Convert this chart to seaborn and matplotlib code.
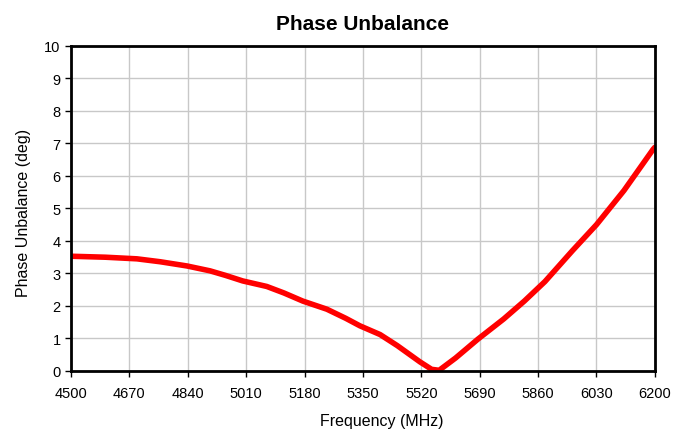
import matplotlib
matplotlib.use("Agg")
import matplotlib.pyplot as plt
import seaborn as sns
import pandas as pd

freq = [4500, 4600, 4692, 4760, 4838, 4905, 4950, 5000, 5070, 5120, 5175, 5245, 5300, 5341, 5400, 5450, 5516, 5550, 5572, 5620, 5685, 5760, 5820, 5880, 5960, 6030, 6110, 6195, 6200]
phase = [3.53, 3.50, 3.45, 3.36, 3.23, 3.08, 2.94, 2.77, 2.60, 2.40, 2.15, 1.90, 1.62, 1.39, 1.12, 0.78, 0.28, 0.05, 0.02, 0.40, 0.98, 1.60, 2.15, 2.75, 3.70, 4.50, 5.55, 6.82, 6.88]
xticks = [4500, 4670, 4840, 5010, 5180, 5350, 5520, 5690, 5860, 6030, 6200]
yticks = list(range(0, 11))

df = pd.DataFrame({"Frequency": freq, "Phase": phase})

sns.set_theme(style="white")
plt.rcParams['font.family'] = ['Liberation Sans', 'DejaVu Sans']

fig = plt.figure(figsize=(6.73, 4.31), dpi=100)
ax = fig.add_axes([0.1055, 0.137, 0.8675, 0.754])
sns.lineplot(data=df, x="Frequency", y="Phase", ax=ax, color="#ff0000", linewidth=4, solid_joinstyle="round", solid_capstyle="round")

ax.set_xlim(4500, 6200)
ax.set_ylim(0, 10)
ax.set_xticks(xticks)
ax.set_yticks(yticks)
ax.grid(True, color="#c8c8c8", linewidth=1)
ax.set_axisbelow(True)
for s in ax.spines.values():
    s.set_color("black")
    s.set_linewidth(2)
    s.set_visible(True)
ax.tick_params(axis="both", which="both", direction="out", length=4, width=1, color="black", labelsize=10.5, labelcolor="black", left=True, bottom=True)
ax.tick_params(axis="x", pad=7)
ax.set_xlabel("Frequency (MHz)", fontsize=11.5, color="black", va="center")
ax.set_ylabel("Phase Unbalance (deg)", fontsize=11.5, color="black", va="center")
ax.xaxis.set_label_coords(0.532, -0.154)
ax.yaxis.set_label_coords(-0.082, 0.49)
ax.set_title("Phase Unbalance", fontsize=15, fontweight="bold", color="black", pad=12)

fig.savefig("out.png", dpi=100)
